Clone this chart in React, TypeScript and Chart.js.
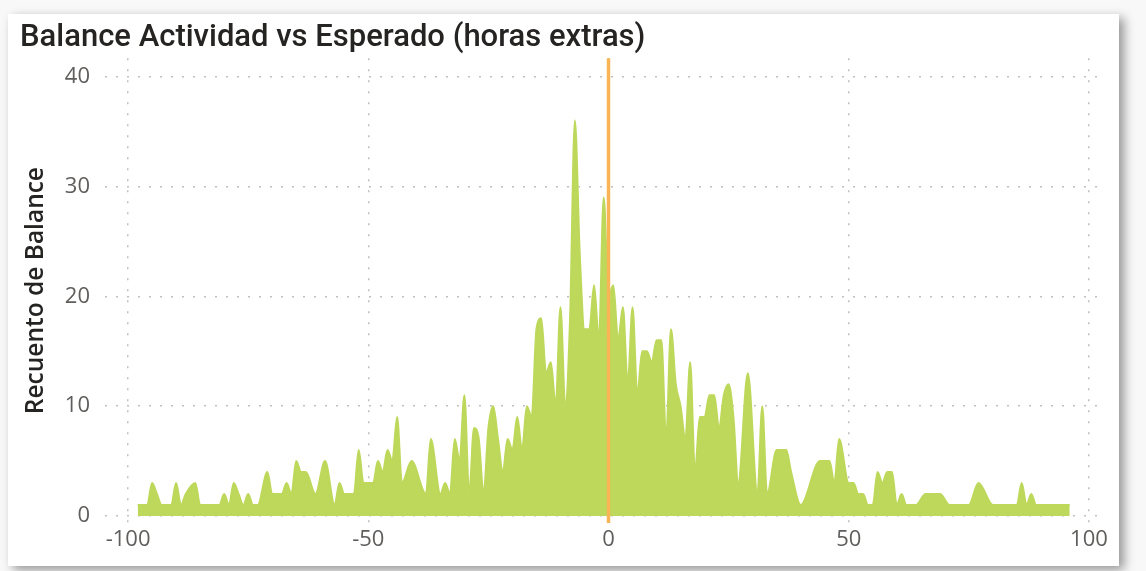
import React, { useEffect, useRef } from 'react';
import { Chart, registerables } from 'chart.js';

Chart.register(...registerables);

const chartTitle = 'Balance Actividad vs Esperado (horas extras)';
const yAxisTitle = 'Recuento de Balance';
const xTickValues = [-100, -50, 0, 50, 100];
const yTickValues = [0, 10, 20, 30, 40];
const referenceValue = 0;

const balanceValues = [
  -98, -96, -95, -94, -93, -91, -90, -89, -88, -86, -85, -81, -80, -79, -78, -77, -76, -75, -74, -73,
  -71, -70, -68, -67, -66, -65, -64, -63, -61, -59, -57, -56, -55, -53, -52, -51, -49, -48, -47, -46,
  -45, -44, -43, -41, -38, -37, -35, -34, -33, -32, -31, -30, -29, -28, -27, -26, -25, -24, -23, -22,
  -21, -20, -19, -18, -17, -16, -15, -14, -13, -12, -11, -10, -9, -8, -7, -6, -5, -4, -3, -2,
  -1, 0, 1, 2, 3, 4, 5, 6, 7, 8, 9, 10, 11, 12, 13, 14, 15, 16, 17, 18,
  19, 20, 21, 22, 23, 24, 25, 26, 27, 29, 31, 32, 33, 35, 37, 38, 40, 44, 46, 47,
  48, 50, 51, 52, 53, 54, 55, 56, 57, 58, 59, 60, 61, 62, 64, 66, 69, 71, 75, 77,
  80, 85, 86, 87, 88, 89, 96,
];

const countValues = [
  1, 1, 3, 2, 1, 1, 3, 1, 2, 3, 1, 1, 2, 1, 3, 2, 1, 2, 1, 1,
  4, 2, 2, 3, 2, 5, 4, 4, 2, 5, 1, 3, 2, 2, 6, 3, 3, 5, 4, 6,
  5, 9, 3, 5, 2, 7, 2, 3, 2, 7, 5, 11, 2, 8, 7, 2, 8, 10, 7, 4,
  7, 6, 9, 6, 10, 9, 17, 18, 13, 14, 10, 19, 10, 18, 36, 24, 17, 17, 21, 16,
  29, 20, 21, 16, 19, 12, 19, 11, 15, 15, 14, 16, 16, 7, 17, 12, 10, 7, 14, 4,
  9, 9, 11, 11, 8, 11, 12, 9, 3, 13, 2, 10, 2, 6, 6, 4, 1, 5, 5, 3,
  7, 3, 3, 2, 2, 1, 1, 4, 3, 4, 4, 1, 2, 1, 1, 2, 2, 1, 1, 3,
  1, 1, 3, 1, 2, 1, 1,
];

const tickFont = { family: "'Open Sans', sans-serif", size: 22 };

export default function App() {
  const canvasRef = useRef<HTMLCanvasElement | null>(null);

  useEffect(() => {
    if (!canvasRef.current) return;
    const refLine = {
      id: 'refLine',
      afterDatasetsDraw(chart: any) {
        const { ctx, chartArea, scales } = chart;
        const x = scales.x.getPixelForValue(referenceValue);
        ctx.save();
        ctx.strokeStyle = '#f8b455';
        ctx.lineWidth = 3.5;
        ctx.beginPath();
        ctx.moveTo(x, chartArea.top);
        ctx.lineTo(x, chartArea.bottom);
        ctx.stroke();
        ctx.restore();
      },
    };

    const chart = new Chart(canvasRef.current, {
      type: 'line',
      data: {
        datasets: [
          {
            data: balanceValues.map((x, i) => ({ x, y: countValues[i] })),
            fill: 'origin',
            backgroundColor: '#bdd85a',
            borderColor: '#bdd85a',
            borderWidth: 2,
            pointRadius: 0,
            cubicInterpolationMode: 'monotone',
            tension: 0.4,
          },
        ],
      },
      options: {
        animation: false,
        responsive: false,
        maintainAspectRatio: false,
        layout: { padding: { left: 12, right: 19, top: 0, bottom: 0 } },
        plugins: {
          legend: { display: false },
          tooltip: { enabled: false },
          title: {
            display: true,
            text: chartTitle,
            align: 'start',
            color: '#252423',
            font: { family: "Roboto, 'Liberation Sans', sans-serif", size: 31, weight: '500' },
            padding: { top: 6, bottom: 1 },
          },
        },
        scales: {
          x: {
            type: 'linear',
            min: -104.8,
            max: 102.3,
            afterBuildTicks: (s: any) => {
              s.ticks = xTickValues.map((v) => ({ value: v }));
            },
            afterFit: (s: any) => {
              s.height = 43;
            },
            grid: { color: 'rgba(0,0,0,0.25)', lineWidth: 1.5, drawTicks: false },
            border: { display: false, dash: [2, 9] },
            ticks: { font: tickFont, color: '#605e5c', padding: 4, maxRotation: 0 },
          },
          y: {
            type: 'linear',
            min: -0.64,
            max: 41.68,
            afterBuildTicks: (s: any) => {
              s.ticks = yTickValues.map((v) => ({ value: v }));
            },
            afterFit: (s: any) => {
              s.width = 85;
            },
            grid: { color: 'rgba(0,0,0,0.25)', lineWidth: 1.5, drawTicks: false },
            border: { display: false, dash: [2, 9] },
            ticks: { font: tickFont, color: '#605e5c', padding: 15 },
            title: {
              display: true,
              text: yAxisTitle,
              color: '#252423',
              font: { family: "'Open Sans', sans-serif", size: 24.5, weight: '600' },
              padding: { top: 1, bottom: 0 },
            },
          },
        },
      },
      plugins: [refLine],
    } as any);
    return () => chart.destroy();
  }, []);

  return (
    <div style={{ position: 'fixed', left: 0, top: 0, width: 1146, height: 571, background: '#f8f8f8', overflow: 'hidden' }}>
      <div
        style={{
          position: 'absolute',
          left: 8,
          top: 14,
          width: 1111,
          height: 552,
          background: '#ffffff',
          boxShadow: '5px 4px 10px rgba(0,0,0,0.4)',
        }}
      >
        <canvas ref={canvasRef} width={1111} height={552} style={{ display: 'block', width: 1111, height: 552 }} />
      </div>
    </div>
  );
}
